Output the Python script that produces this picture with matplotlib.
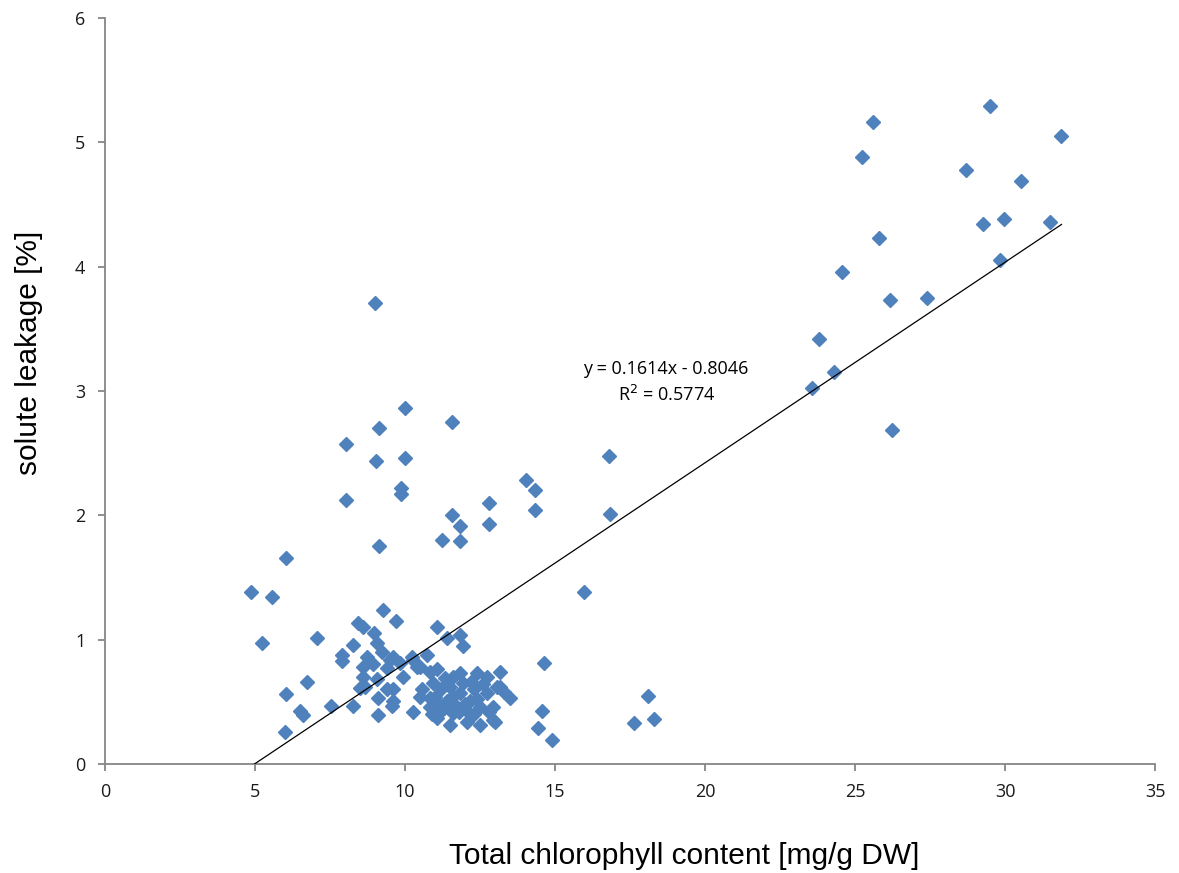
"""Scatter plot of solute leakage against total chlorophyll content"""

import numpy as np
import matplotlib
matplotlib.use('Agg')
import matplotlib.pyplot as plt

# chlorophyll content [mg/g DW]
chlorophyll = [
    31.87, 29.5, 25.6, 25.23, 28.7, 30.53, 29.97, 29.27, 31.5, 25.8,
    29.83, 24.57, 26.17, 27.4, 23.8, 24.3, 23.57, 26.23,
    9.0, 10.0, 9.13, 11.57, 8.03, 9.03, 10.0, 16.8, 14.03, 14.33,
    9.87, 9.87, 8.03, 12.8, 11.57, 16.83, 14.33, 11.83, 12.8, 11.23,
    11.83, 9.13, 6.03, 4.87, 5.57, 15.97, 5.23, 7.07, 14.63, 18.1,
    17.63, 18.3, 14.57, 14.43, 14.9, 6.03, 6.0, 6.73, 6.5, 6.6, 7.53,
    9.26, 9.69, 8.42, 8.61, 8.97, 11.08, 11.39, 11.83, 11.92, 8.28,
    7.89, 7.89, 9.06, 9.22, 8.72, 8.61, 8.94, 9.61, 9.39, 9.83,
    10.22, 10.72, 10.39, 10.83, 11.06, 9.94, 8.61, 9.06, 8.67, 8.5,
    9.61, 9.61, 9.11, 8.28, 9.11, 9.58, 9.5, 10.28, 10.5, 9.39,
    10.28, 10.56, 10.83, 11.06, 11.5, 12.06, 12.5, 13.0, 13.17, 13.5,
    13.17, 11.83, 12.39, 12.72, 11.33, 10.94, 10.5, 10.83, 11.39, 11.83,
    12.28, 12.72, 13.06, 12.5, 12.06, 11.61, 11.17, 12.94, 11.94, 11.5,
    12.17, 11.0, 12.94, 11.6, 12.4, 11.2, 12.0, 11.7, 12.6, 11.1,
    11.3, 11.8, 12.3, 12.8, 12.2, 11.6, 10.9, 13.3,
]

# solute leakage [%]
leakage = [
    5.05, 5.29, 5.16, 4.88, 4.78, 4.69, 4.38, 4.34, 4.36, 4.23,
    4.05, 3.96, 3.73, 3.75, 3.42, 3.15, 3.02, 2.69,
    3.71, 2.86, 2.70, 2.75, 2.57, 2.44, 2.46, 2.48, 2.28, 2.20,
    2.22, 2.17, 2.12, 2.10, 2.00, 2.01, 2.04, 1.91, 1.93, 1.80,
    1.79, 1.75, 1.66, 1.38, 1.34, 1.38, 0.97, 1.01, 0.81, 0.55,
    0.33, 0.36, 0.43, 0.29, 0.19, 0.56, 0.26, 0.66, 0.43, 0.39, 0.47,
    1.24, 1.15, 1.13, 1.10, 1.05, 1.10, 1.01, 1.04, 0.95, 0.96,
    0.88, 0.83, 0.97, 0.90, 0.86, 0.78, 0.80, 0.86, 0.77, 0.81,
    0.86, 0.88, 0.78, 0.74, 0.76, 0.70, 0.70, 0.68, 0.62, 0.61,
    0.60, 0.51, 0.53, 0.47, 0.39, 0.47, 0.84, 0.84, 0.78, 0.60,
    0.42, 0.60, 0.53, 0.37, 0.31, 0.34, 0.31, 0.34, 0.74, 0.53,
    0.62, 0.73, 0.73, 0.70, 0.69, 0.65, 0.54, 0.46, 0.51, 0.57,
    0.60, 0.57, 0.62, 0.46, 0.43, 0.41, 0.42, 0.46, 0.65, 0.62,
    0.51, 0.54, 0.35, 0.55, 0.52, 0.60, 0.48, 0.47, 0.64, 0.48,
    0.45, 0.42, 0.40, 0.42, 0.66, 0.70, 0.40, 0.58,
]

# linear trend reported on the chart
slope, intercept, r2 = 0.1614, -0.8046, 0.5774

x_ticks = [0, 5, 10, 15, 20, 25, 30, 35]
y_ticks = [0, 1, 2, 3, 4, 5, 6]

AXIS_GRAY = '#868686'
MARKER_BLUE = '#4F81BD'


def main():
    fig = plt.figure(figsize=(11.79, 8.73), dpi=100)
    ax = fig.add_axes([0.089, 0.1249, 0.891, 0.8545])

    ax.plot(chlorophyll, leakage, linestyle='none', marker='D', ms=7.6,
            color=MARKER_BLUE, mec=MARKER_BLUE, zorder=3)

    # trend line over the range of the data
    xs = np.array([min(chlorophyll), max(chlorophyll)])
    ax.plot(xs, slope * xs + intercept, color='black', lw=0.9, zorder=4)

    ax.set_xlim(0, 35)
    ax.set_ylim(0, 6)
    ax.set_xticks(x_ticks)
    ax.set_yticks(y_ticks)

    for side in ('top', 'right'):
        ax.spines[side].set_visible(False)
    for side in ('left', 'bottom'):
        ax.spines[side].set_color(AXIS_GRAY)
        ax.spines[side].set_linewidth(1.3)
    ax.tick_params(axis='both', direction='out', length=5, width=1.3,
                   color=AXIS_GRAY, labelsize=13, labelcolor='#1a1a1a')
    ax.tick_params(axis='x', pad=9)
    ax.tick_params(axis='y', pad=9)
    for lab in ax.get_xticklabels() + ax.get_yticklabels():
        lab.set_family('Open Sans')

    eq = f'y = {slope:.4f}x - {abs(intercept):.4f}\nR$^2$ = {r2:.4f}'
    ax.text(18.7, 3.07, eq, ha='center', va='center', fontsize=13,
            family='Open Sans', linespacing=1.4)

    fig.text(684 / 1179, 1 - 856 / 873, 'Total chlorophyll content [mg/g DW]',
             ha='center', va='center', fontsize=21.5, family='Liberation Sans')
    fig.text(29 / 1179, 1 - 353 / 873, 'solute leakage [%]', rotation=90,
             ha='center', va='center', fontsize=21.5, family='Liberation Sans')

    fig.savefig('out.png', dpi=100)


if __name__ == "__main__":
    main()
